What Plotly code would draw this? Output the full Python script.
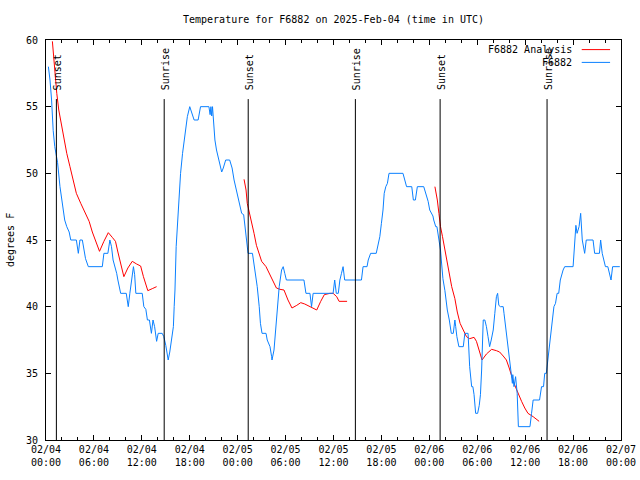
import pandas as pd
import plotly.graph_objects as go

BASE = pd.Timestamp("2025-02-04 00:00")

# Observations (hours since 02/04 00:00 UTC, deg F)
obs_hours = [0.3, 0.5, 0.7, 0.9, 1.1, 1.25, 1.45, 1.75, 2.15, 2.34, 2.6, 2.9, 3.1, 3.8, 4.05, 4.25, 4.55, 4.75,
             4.95, 5.3, 7.05, 7.25, 7.75, 8.0, 8.2, 8.4, 8.65, 8.85, 9.0, 9.35, 10.05, 10.3, 10.5, 10.7, 10.95,
             11.1, 11.25, 12.05, 12.25, 12.5, 12.7, 12.95, 13.1, 13.2, 13.4, 13.6, 13.85, 14.05, 14.55, 14.75,
             15.0, 15.2, 15.3, 15.5, 15.7, 15.95, 16.05, 16.15, 16.3, 16.55, 16.85, 17.1, 17.4, 17.7, 18.0,
             18.25, 18.55, 19.05, 19.35, 20.4, 20.55, 20.65, 20.75, 20.85, 21.0, 21.15, 21.35, 21.55, 21.8,
             22.0, 22.2, 22.5, 23.0, 23.3, 23.55, 23.85, 24.15, 24.5, 24.75, 25.0, 25.2, 25.3, 25.85, 26.15,
             26.45, 26.7, 26.85, 27.05, 27.55, 27.7, 28.05, 28.25, 28.3, 28.55, 28.8, 29.0, 29.2, 29.5, 29.7,
             29.9, 30.1, 32.3, 32.55, 33.05, 33.25, 33.45, 35.95, 36.15, 36.35, 36.6, 36.8, 37.0, 37.2, 37.4,
             39.5, 39.7, 40.2, 40.35, 40.65, 41.35, 41.6, 41.8, 42.0, 42.2, 42.35, 42.55, 42.75, 42.95, 44.7,
             44.95, 45.15, 45.8, 46.0, 46.25, 46.5, 47.3, 47.6, 47.85, 48.05, 48.25, 48.45, 48.55, 48.8, 48.95,
             49.1, 49.2, 49.4, 49.5, 49.7, 49.95, 50.25, 50.5, 50.65, 50.75, 51.0, 51.2, 51.3, 51.45, 51.7,
             52.25, 52.45, 52.85, 53.05, 53.3, 53.45, 53.6, 53.8, 54.05, 54.25, 54.4, 54.55, 54.75, 54.95,
             55.15, 55.35, 55.55, 55.75, 56.0, 56.2, 56.4, 56.55, 56.7, 56.9, 57.25, 57.35, 57.55, 57.8, 58.0,
             58.2, 58.4, 58.45, 58.6, 58.8, 59.0, 59.15, 60.6, 60.8, 61.0, 61.8, 62.05, 62.3, 62.45, 62.65,
             62.85, 63.15, 63.4, 63.6, 63.8, 64.0, 64.2, 64.4, 64.75, 64.95, 66.0, 66.1, 66.2, 66.35, 66.5,
             66.75, 66.95, 67.15, 67.45, 67.65, 68.5, 68.7, 69.3, 69.45, 69.65, 69.85, 70.05, 70.35, 70.55,
             70.75, 70.95, 71.85]
obs_temp = [58.0, 57.0, 55.5, 53.2, 52.0, 51.5, 50.8, 49.0, 47.2, 46.5, 46.0, 45.6, 45.0, 45.0, 44.0, 45.0, 45.0, 44.25,
            43.6, 43.0, 43.0, 44.0, 44.0, 45.0, 44.5, 43.5, 43.0, 42.5, 42.0, 41.0, 41.0, 40.0, 41.0, 41.75, 43.0,
            42.4, 41.0, 41.0, 40.0, 39.8, 39.0, 39.0, 38.3, 38.0, 39.0, 38.5, 37.4, 38.0, 38.0, 37.75,
            37.1, 36.4, 36.0, 36.6, 37.5, 38.5, 40.0, 41.25, 44.5, 47.5, 50.0, 51.5, 53.0, 54.25, 55.0,
            54.6, 54.0, 54.0, 55.0, 55.0, 54.4, 55.0, 54.3, 55.0, 53.25, 52.5, 51.75, 51.25, 50.75,
            50.1, 50.4, 51.0, 51.0, 50.4, 49.5, 48.75, 48.0, 47.0, 46.9, 45.75, 44.5, 44.0, 44.0, 42.75,
            41.5, 40.0, 38.75, 38.0, 38.0, 37.5, 37.0, 36.25, 36.0, 36.75, 38.5, 40.25, 41.5, 42.75, 43.0,
            42.5, 42.0, 42.0, 41.0, 41.0, 40.0, 41.0, 41.0, 42.0, 41.0, 41.0, 42.0, 42.5, 43.0, 42.0,
            42.0, 43.0, 43.0, 43.5, 44.0, 44.0, 44.75, 45.25, 46.25, 47.25, 48.5, 49.0, 49.25, 50.0, 50.0,
            49.5, 49.0, 49.0, 48.0, 48.0, 49.0, 49.0, 48.4, 47.9, 47.25, 47.0, 46.8, 46.5, 46.0, 46.0,
            45.5, 44.9, 44.25, 43.5, 42.1, 41.2, 39.75, 39.0, 38.25, 38.0, 38.0, 39.0, 38.5, 37.75, 37.0,
            37.0, 38.0, 38.0, 35.5, 34.0, 34.0, 33.4, 32.0, 32.0, 32.6, 33.4, 35.25, 39.0, 39.0,
            38.5, 37.75, 37.0, 37.5, 38.25, 39.5, 40.75, 41.0, 40.1, 40.0, 40.0, 39.5, 38.5, 37.25, 36.0,
            35.0, 34.25, 34.9, 34.0, 34.75, 33.5, 31.0, 31.0, 32.0, 33.0, 33.0, 34.0, 34.0, 35.0, 35.0,
            36.0, 37.5, 39.0, 40.0, 40.25, 41.0, 41.0, 42.0, 42.75, 43.0, 43.0, 44.0, 45.5, 46.1, 45.5,
            46.0, 47.0, 45.0, 44.0, 45.0, 45.0, 44.0, 44.0, 45.0, 44.0, 43.4, 43.0, 43.0, 42.5,
            42.0, 43.0, 43.0]

# Analysis (None separates the three runs)
ana_hours = [0.8, 1.1, 1.35, 1.6, 1.9, 2.25, 2.6, 3.0, 3.4, 3.8, 4.35, 4.85, 5.4, 5.8, 6.35, 6.7, 7.25, 7.8, 8.3,
             8.7, 9.0, 9.35, 9.75, 10.25, 10.8, 11.35, 11.85, 12.2, 12.5, 12.75, 13.3, 13.85, None,
             24.8, 25.05, 25.2, 25.5, 25.75, 26.05, 26.35, 26.65, 27.0, 27.55, 28.05, 28.45, 28.85, 29.3, 29.8,
             30.3, 30.8, 31.4, 31.9, 32.4, 33.05, 33.45, 33.9, 34.4, 34.85, 35.55, 35.95, 36.4, 36.7, 37.7, None,
             48.7, 49.0, 49.2, 49.4, 49.65, 49.95, 50.2, 50.5, 50.8, 51.2, 51.5, 51.85, 52.25, 52.65, 53.05,
             53.6, 53.9, 54.25, 54.6, 55.15, 55.8, 56.4, 56.8, 57.25, 57.65, 58.0, 58.3, 58.6, 58.95, 59.25,
             59.55, 59.95, 60.35, 61.0, 61.4, 61.75]
ana_temp = [59.9, 57.5, 56.0, 54.75, 53.75, 52.5, 51.5, 50.5, 49.5, 48.5, 47.75, 47.1, 46.4, 45.6, 44.75, 44.15, 44.9,
            45.55, 45.2, 44.9, 44.1, 43.25, 42.25, 42.9, 43.4, 43.2, 43.05, 42.25, 41.6, 41.2, 41.35, 41.5, None,
            49.55, 48.75, 47.75, 47.0, 46.25, 45.5, 44.6, 44.1, 43.4, 43.0, 42.4, 41.9, 41.4, 41.3, 41.25,
            40.5, 39.9, 40.1, 40.3, 40.2, 40.0, 39.9, 39.75, 40.4, 40.9, 41.0, 41.0, 40.75, 40.4, 40.4, None,
            49.0, 48.0, 47.0, 46.0, 45.25, 44.25, 43.25, 42.25, 41.5, 40.6, 39.6, 38.75, 38.25, 37.75, 37.6,
            37.7, 37.4, 36.6, 36.0, 36.45, 36.8, 36.7, 36.6, 36.3, 36.0, 35.4, 34.75, 34.25, 33.75, 33.25,
            32.9, 32.4, 32.0, 31.75, 31.55, 31.4]

event_labels = ["Sunset", "Sunrise", "Sunset", "Sunrise", "Sunset", "Sunrise"]
event_hours = [1.3, 14.8, 25.32, 38.74, 49.35, 62.74]
event_line_top = 55.57


def to_time(hours):
    return [None if h is None else BASE + pd.Timedelta(hours=h) for h in hours]


FONT = "DejaVu Sans Mono"
RED = "#ff0000"
BLUE = "#0a80ff"

fig = go.Figure()
fig.add_trace(go.Scatter(x=to_time(ana_hours), y=ana_temp, mode="lines", name="F6882 Analysis",
                         line=dict(color=RED, width=1), connectgaps=False))
fig.add_trace(go.Scatter(x=to_time(obs_hours), y=obs_temp, mode="lines", name="F6882",
                         line=dict(color=BLUE, width=1)))

for lab, h in zip(event_labels, event_hours):
    t = BASE + pd.Timedelta(hours=h)
    fig.add_shape(type="line", xref="x", yref="y", x0=t, x1=t, y0=30, y1=event_line_top,
                  line=dict(color="black", width=1))
    fig.add_annotation(x=t, y=56.1, xref="x", yref="y", text=lab, textangle=-90, showarrow=False,
                       xanchor="center", yanchor="bottom", xshift=1, font=dict(family=FONT, size=10, color="black"))

# legend (gnuplot style: text right, sample line after it)
leg = [("F6882 Analysis", RED, 0.976), ("F6882", BLUE, 0.944)]
for txt, col, yp in leg:
    fig.add_annotation(x=0.918, y=yp, xref="paper", yref="paper", text=txt, showarrow=False,
                       xanchor="right", yanchor="middle", font=dict(family=FONT, size=10, color="black"))
    fig.add_shape(type="line", xref="paper", yref="paper", x0=0.9317, x1=0.981, y0=yp, y1=yp,
                  line=dict(color=col, width=1))

fig.add_annotation(x=-0.0626, y=0.5, xref="paper", yref="paper", text="degrees F", textangle=-90,
                   showarrow=False, xanchor="center", yanchor="middle",
                   font=dict(family=FONT, size=10, color="black"))

fig.update_layout(
    width=640, height=480,
    margin=dict(l=46, r=19, t=40, b=40, autoexpand=False),
    paper_bgcolor="white", plot_bgcolor="white",
    showlegend=False,
    font=dict(family=FONT, size=10, color="black"),
    title=dict(text="Temperature for F6882 on 2025-Feb-04 (time in UTC)", x=0.5, xref="paper",
               xanchor="center", y=1 - 19 / 480, yanchor="middle", font=dict(family=FONT, size=10),
               automargin=False),
    xaxis=dict(type="date", range=[BASE, BASE + pd.Timedelta(hours=72)], automargin=False,
               tick0=BASE, dtick=6 * 3600 * 1000, tickformat="%m/%d<br>%H:%M",
               ticks="inside", ticklen=5, tickcolor="black", showline=True, linecolor="black", linewidth=1,
               mirror="ticks", showgrid=False, zeroline=False,
               minor=dict(dtick=2 * 3600 * 1000, ticks="inside", ticklen=3, tickcolor="black", showgrid=False),
               tickfont=dict(family=FONT, size=10)),
    yaxis=dict(range=[30, 60], dtick=5, ticks="inside", ticklen=5, tickcolor="black", automargin=False,
               showline=True, linecolor="black", linewidth=1, mirror="ticks",
               showgrid=False, zeroline=False, ticklabelstandoff=5, tickfont=dict(family=FONT, size=10)),
)

fig.write_html("out.html", config={"displayModeBar": False},
               post_script="document.body.style.margin='0';document.body.style.overflow='hidden';")
